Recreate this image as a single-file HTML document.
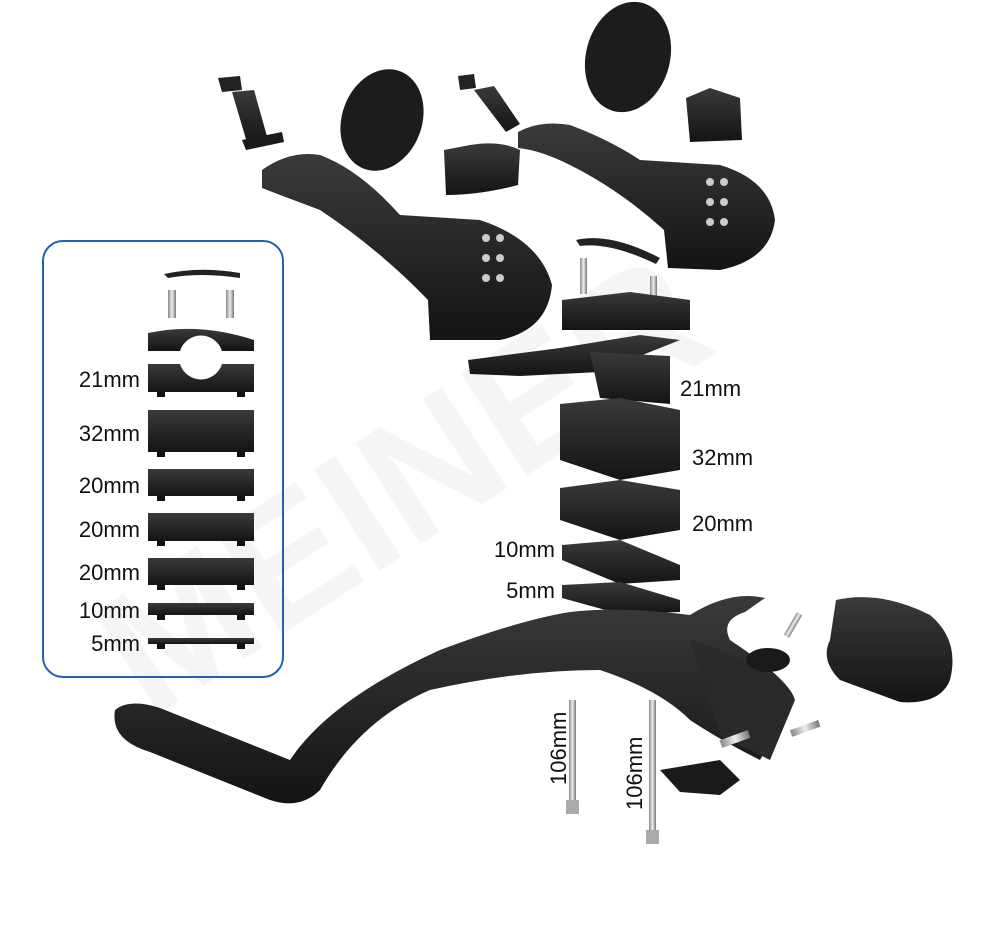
<!DOCTYPE html>
<html><head><style>
body{margin:0;background:#fff;width:1000px;height:929px;overflow:hidden;font-family:"Liberation Sans",sans-serif}
svg{position:absolute;left:0;top:0}
</style></head><body>
<svg width="1000" height="929" viewBox="0 0 1000 929" xmlns="http://www.w3.org/2000/svg">
<defs>
<linearGradient id="g" x1="0" y1="0" x2="0" y2="1"><stop offset="0" stop-color="#3a3a3a"/><stop offset="1" stop-color="#141414"/></linearGradient>
<linearGradient id="s" x1="0" y1="0" x2="1" y2="0"><stop offset="0" stop-color="#888"/><stop offset=".5" stop-color="#eee"/><stop offset="1" stop-color="#777"/></linearGradient>
</defs>
<!-- watermark -->
<text x="150" y="720" font-size="175" font-weight="bold" fill="#f5f5f5" transform="rotate(-33 150 720)" font-family="Liberation Sans">MEINER</text>

<!-- inset panel -->
<rect x="43" y="241" width="240" height="436" rx="20" fill="none" stroke="#1f63ad" stroke-width="2"/>
<path d="M164 274 Q200 266 240 273 L240 278 Q200 272 168 278 Z" fill="#222"/>
<rect x="168" y="290" width="8" height="28" fill="url(#s)"/><rect x="226" y="290" width="8" height="28" fill="url(#s)"/>
<path d="M148 333 Q200 322 254 340 L254 351 L148 351 Z" fill="url(#g)"/>
<rect x="148" y="364" width="106" height="28" fill="url(#g)"/>
<path d="M180 351 A22 22 0 0 1 222 351 Z" fill="#fff"/><path d="M180 364 A22 22 0 0 0 222 364 Z" fill="#fff"/>
<rect x="148" y="410" width="106" height="42" fill="url(#g)"/>
<rect x="148" y="469" width="106" height="27" fill="url(#g)"/>
<rect x="148" y="513" width="106" height="28" fill="url(#g)"/>
<rect x="148" y="558" width="106" height="27" fill="url(#g)"/>
<rect x="148" y="603" width="106" height="12" fill="url(#g)"/>
<rect x="148" y="638" width="106" height="6" fill="url(#g)"/>
<g fill="#111">
<rect x="157" y="392" width="8" height="5"/><rect x="237" y="392" width="8" height="5"/>
<rect x="157" y="452" width="8" height="5"/><rect x="237" y="452" width="8" height="5"/>
<rect x="157" y="496" width="8" height="5"/><rect x="237" y="496" width="8" height="5"/>
<rect x="157" y="541" width="8" height="5"/><rect x="237" y="541" width="8" height="5"/>
<rect x="157" y="585" width="8" height="5"/><rect x="237" y="585" width="8" height="5"/>
<rect x="157" y="615" width="8" height="5"/><rect x="237" y="615" width="8" height="5"/>
<rect x="157" y="644" width="8" height="5"/><rect x="237" y="644" width="8" height="5"/>
</g>
<g font-size="22" fill="#111" text-anchor="end">
<text x="140" y="387">21mm</text><text x="140" y="441">32mm</text><text x="140" y="493">20mm</text>
<text x="140" y="537">20mm</text><text x="140" y="580">20mm</text><text x="140" y="618">10mm</text><text x="140" y="651">5mm</text>
</g>

<!-- left armrest -->
<path d="M218 78 L240 76 L242 90 L222 92 Z" fill="#222"/>
<path d="M232 92 L254 90 L268 140 L248 146 Z" fill="url(#g)"/>
<path d="M242 140 L282 132 L284 142 L246 150 Z" fill="#1a1a1a"/>
<ellipse cx="382" cy="120" rx="40" ry="52" fill="#1c1c1c" transform="rotate(20 382 120)"/>
<path d="M444 150 L470 145 Q500 140 520 150 L518 185 Q480 195 446 195 Z" fill="url(#g)"/>
<path d="M262 170 Q290 150 320 155 Q360 170 400 215 L480 220 Q540 240 552 285 Q548 330 500 340 L430 340 L428 300 Q380 250 320 210 Q280 195 262 188 Z" fill="url(#g)"/>
<!-- right armrest -->
<path d="M458 76 L474 74 L476 88 L460 90 Z" fill="#222"/>
<path d="M474 90 L494 86 L520 124 L506 132 Z" fill="url(#g)"/>
<ellipse cx="628" cy="57" rx="42" ry="56" fill="#1c1c1c" transform="rotate(15 628 57)"/>
<path d="M686 98 L710 88 L740 98 L742 140 L690 142 Z" fill="url(#g)"/>
<path d="M518 132 Q540 120 570 125 Q610 140 640 160 L720 165 Q770 180 775 220 Q770 260 720 270 L668 268 L664 230 Q620 190 570 165 Q540 150 518 148 Z" fill="url(#g)"/>
<g fill="#ccc"><circle cx="486" cy="238" r="4"/><circle cx="486" cy="258" r="4"/><circle cx="486" cy="278" r="4"/><circle cx="500" cy="238" r="4"/><circle cx="500" cy="258" r="4"/><circle cx="500" cy="278" r="4"/>
<circle cx="710" cy="182" r="4"/><circle cx="710" cy="202" r="4"/><circle cx="710" cy="222" r="4"/><circle cx="724" cy="182" r="4"/><circle cx="724" cy="202" r="4"/><circle cx="724" cy="222" r="4"/></g>

<!-- center stack -->
<path d="M576 240 Q610 232 660 258 L656 264 Q610 242 580 246 Z" fill="#222"/>
<rect x="580" y="258" width="7" height="36" fill="url(#s)"/><rect x="650" y="276" width="7" height="36" fill="url(#s)"/>
<path d="M562 300 L630 292 L690 300 L690 330 L562 330 Z" fill="url(#g)"/>
<path d="M468 360 L560 348 L640 335 L680 340 L600 372 L520 376 L470 374 Z" fill="url(#g)"/>
<path d="M590 352 L670 356 L670 404 L600 398 Z" fill="url(#g)"/>
<path d="M560 404 L620 398 L680 410 L680 470 L620 480 L560 460 Z" fill="url(#g)"/>
<path d="M560 488 L620 480 L680 490 L680 530 L620 540 L560 520 Z" fill="url(#g)"/>
<path d="M562 545 L620 540 L680 565 L680 580 L620 584 L562 560 Z" fill="url(#g)"/>
<path d="M562 585 L620 582 L680 600 L680 612 L620 614 L562 598 Z" fill="url(#g)"/>
<g font-size="22" fill="#111">
<text x="680" y="396">21mm</text><text x="692" y="465">32mm</text><text x="692" y="531">20mm</text>
<text x="555" y="557" text-anchor="end">10mm</text><text x="555" y="598" text-anchor="end">5mm</text>
</g>

<!-- basebar -->
<path d="M115 710 Q130 698 160 708 L290 760 Q330 700 440 650 Q520 620 570 612 Q620 606 690 615 Q730 590 765 598 L745 612 Q720 620 730 640 Q790 680 795 700 L760 760 Q720 740 690 720 Q660 690 600 670 Q520 670 430 690 Q360 720 320 790 Q300 810 270 800 L150 752 Q110 740 115 710 Z" fill="url(#g)"/>
<path d="M690 640 Q760 660 795 700 L770 760 L720 735 Z" fill="#2a2a2a"/>
<path d="M836 600 Q880 590 930 615 Q960 640 950 680 Q940 705 900 702 L840 680 Q820 660 830 640 Z" fill="url(#g)"/>
<ellipse cx="768" cy="660" rx="22" ry="12" fill="#1a1a1a"/>
<rect x="790" y="612" width="6" height="26" fill="url(#s)" transform="rotate(30 793 625)"/>
<rect x="569" y="700" width="7" height="110" fill="url(#s)"/><rect x="566" y="800" width="13" height="14" fill="#aaa"/>
<rect x="649" y="700" width="7" height="130" fill="url(#s)"/><rect x="646" y="830" width="13" height="14" fill="#aaa"/>
<text font-size="22" fill="#111" transform="translate(566 785) rotate(-90)">106mm</text>
<text font-size="22" fill="#111" transform="translate(642 810) rotate(-90)">106mm</text>
<path d="M660 770 L720 760 L740 780 L720 795 L680 792 Z" fill="#1a1a1a"/>
<rect x="720" y="735" width="30" height="8" fill="url(#s)" transform="rotate(-20 735 739)"/>
<rect x="790" y="725" width="30" height="7" fill="url(#s)" transform="rotate(-20 805 728)"/>
</svg>
</body></html>
